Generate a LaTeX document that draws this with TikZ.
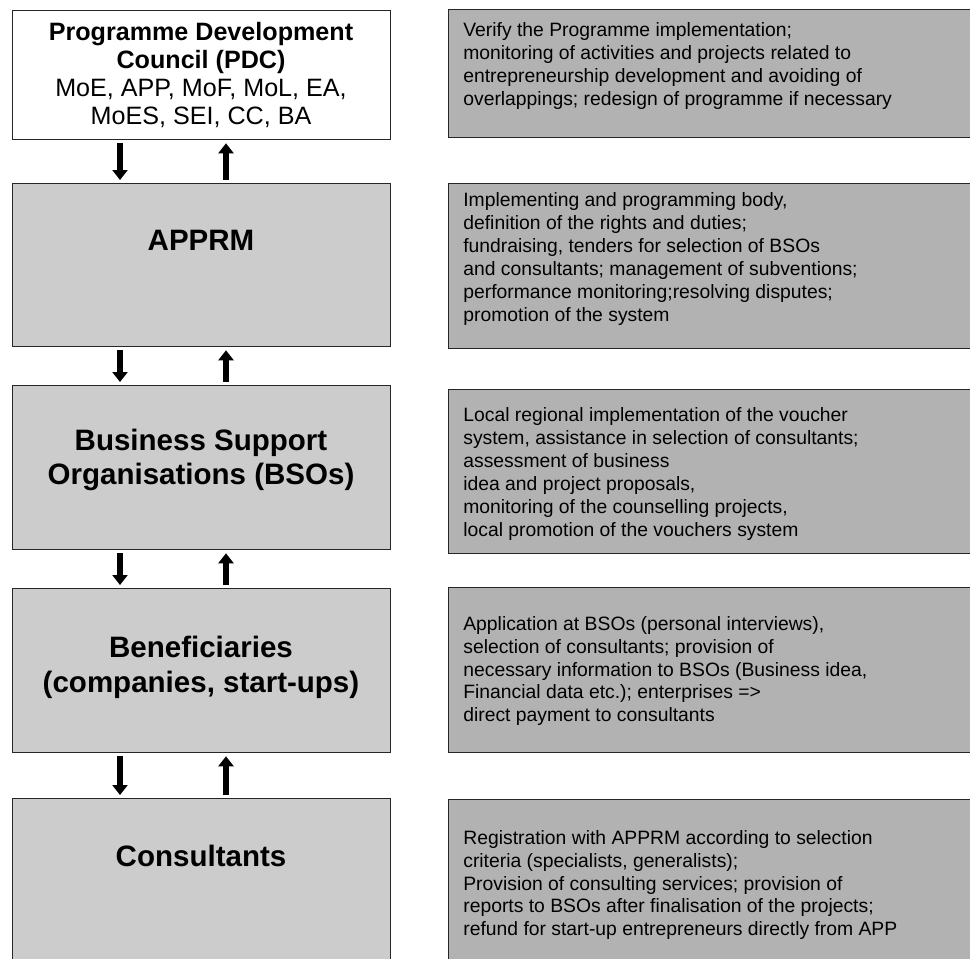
\documentclass[tikz,border=0pt]{standalone}
\usepackage{fontspec}
\setmainfont{Liberation Sans}
\usetikzlibrary{arrows.meta}

\begin{document}
\begin{tikzpicture}[x=0.02cm, y=-0.02cm,
  stage/.style={draw=black!85, line width=0.75pt, fill=black!20, minimum width=7.56cm, anchor=north west, inner sep=0pt},
  task/.style={draw=black!85, line width=0.75pt, fill=black!30, minimum width=11.04cm, anchor=north west, inner sep=0pt},
  title/.style={font=\fontsize{16.8}{19.8}\selectfont\bfseries, align=center},
  note/.style={font=\fontsize{11}{13}\selectfont, align=left, anchor=west, inner sep=0pt},
  flow/.style={line width=3.8pt, -{Triangle[width=8.5pt,length=5.7pt]}, shorten <=1.7pt, shorten >=1.7pt}]
\useasboundingbox (0,0) rectangle (970,958);
\clip (0,0) rectangle (970,958);
\fill[white] (0,0) rectangle (970,958);

% left column: the bodies
\node[stage, fill=white, minimum height=2.58cm] (pdc) at (12,10) {};
\node[stage, minimum height=3.26cm] (apprm) at (12,183) {};
\node[stage, minimum height=3.28cm] (bso) at (12,385) {};
\node[stage, minimum height=3.28cm] (benef) at (12,588) {};
\node[stage, minimum height=4.04cm] (consult) at (12,798) {};

\node[align=center, font=\fontsize{14.3}{16}\selectfont] (pdcName) at (201,75)
  {\textbf{Programme Development}\\\textbf{Council (PDC)}\\MoE, APP, MoF, MoL, EA,\\MoES, SEI, CC, BA};
\node[title] (apprmName) at (201,240) {APPRM};
\node[title] (bsoName) at (201,460) {Business Support\\Organisations (BSOs)};
\node[title] (benefName) at (201,667) {Beneficiaries\\(companies, start-ups)};
\node[title] (consultName) at (201,856) {Consultants};

% arrows between the levels
\coordinate (down) at (120,0);
\coordinate (up) at (226,0);
\foreach \a/\b in {pdc/apprm, apprm/bso, bso/benef, benef/consult} {
  \draw[flow] (\a.south -| down) -- (\b.north -| down);
  \draw[flow] (\b.north -| up) -- (\a.south -| up);
}

% right column: the tasks
\node[task, minimum height=2.56cm] (pdcTask) at (448,9) {};
\node[task, minimum height=3.30cm] (apprmTask) at (448,183) {};
\node[task, minimum height=3.28cm] (bsoTask) at (448,389) {};
\node[task, minimum height=3.30cm] (benefTask) at (448,587) {};
\node[task, minimum height=4.02cm] (consultTask) at (448,799) {};

\node[note] (pdcNote) at (463,66) {Verify the Programme implementation;\\
  monitoring of activities and projects related to\\
  entrepreneurship development and avoiding of\\
  overlappings; redesign of programme if necessary};
\node[note] (apprmNote) at (463,259) {Implementing and programming body,\\
  definition of the rights and duties;\\
  fundraising, tenders for selection of BSOs\\
  and consultants; management of subventions;\\
  performance monitoring;resolving disputes;\\
  promotion of the system};
\node[note] (bsoNote) at (463,474) {Local regional implementation of the voucher\\
  system, assistance in selection of consultants;\\
  assessment of business\\
  idea and project proposals,\\
  monitoring of the counselling projects,\\
  local promotion of the vouchers system};
\node[note] (benefNote) at (463,671) {Application at BSOs (personal interviews),\\
  selection of consultants; provision of\\
  necessary information to BSOs (Business idea,\\
  Financial data etc.); enterprises =>\\
  direct payment to consultants};
\node[note] (consultNote) at (463,885) {Registration with APPRM according to selection\\
  criteria (specialists, generalists);\\
  Provision of consulting services; provision of\\
  reports to BSOs after finalisation of the projects;\\
  refund for start-up entrepreneurs directly from APP};
\end{tikzpicture}
\end{document}
